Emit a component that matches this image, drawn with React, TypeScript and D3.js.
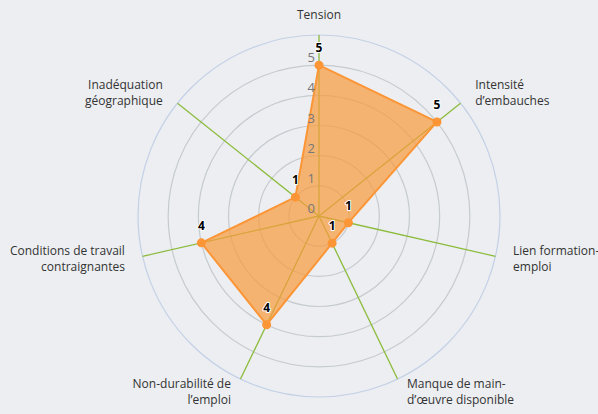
import React from 'react'
import * as d3 from 'd3'

const categories = [
  ['Tension'],
  ['Intensité', 'd’embauches'],
  ['Lien formation-', 'emploi'],
  ['Manque de main-', 'd’œuvre disponible'],
  ['Non-durabilité de', 'l’emploi'],
  ['Conditions de travail', 'contraignantes'],
  ['Inadéquation', 'géographique']
]
const values = [5, 5, 1, 1, 4, 4, 1]
const ticks = [0, 1, 2, 3, 4, 5]
const maxValue = 6

const width = 598
const height = 414
const cx = 319
const cy = 216
const outerR = 181

const App = () => {
  const r = d3.scaleLinear().domain([0, maxValue]).range([0, outerR])
  const angle = d3
    .scaleLinear()
    .domain([0, categories.length])
    .range([0, 2 * Math.PI])

  const pt = (i: number, rad: number) => {
    const a = angle(i)
    return [cx + rad * Math.sin(a), cy - rad * Math.cos(a)]
  }

  const area = d3
    .lineRadial<number>()
    .angle((_, i) => angle(i))
    .radius(d => r(d))
    .curve(d3.curveLinearClosed)

  const font = "'Open Sans', 'DejaVu Sans', sans-serif"

  return (
    <svg
      width={width}
      height={height}
      style={{ position: 'absolute', left: 0, top: 0, background: '#eceef1' }}
    >
      <rect width={width} height={height} fill='#eceef1' />
      {/* grid rings */}
      {ticks.slice(1).map(t => (
        <circle key={t} cx={cx} cy={cy} r={r(t)} fill='none' stroke='#c6cbcf' strokeWidth={1.2} />
      ))}
      <circle cx={cx} cy={cy} r={r(maxValue)} fill='none' stroke='#c3d0e6' strokeWidth={1.2} />
      {/* spokes */}
      {categories.map((_, i) => {
        const [x, y] = pt(i, outerR)
        return <line key={i} x1={cx} y1={cy} x2={x} y2={y} stroke='#8cbb3c' strokeWidth={1.3} />
      })}
      {/* series */}
      <g transform={`translate(${cx},${cy})`}>
        <path d={area(values) || ''} fill='#fa9a3c' fillOpacity={0.7} stroke='#fb9535' strokeWidth={2} strokeLinejoin='round' />
      </g>
      {values.map((v, i) => {
        const [x, y] = pt(i, r(v))
        return <circle key={i} cx={x} cy={y} r={4.5} fill='#fb9535' />
      })}
      {/* tick labels */}
      {ticks.map(t => (
        <text
          key={t}
          x={315}
          y={cy - r(t) - 3}
          textAnchor='end'
          fontSize={13}
          fontFamily={font}
          fill='#777'
        >
          {t}
        </text>
      ))}
      {/* data labels */}
      {values.map((v, i) => {
        const [x, y] = pt(i, r(v))
        return (
          <text
            key={i}
            x={x}
            y={y - 13}
            textAnchor='middle'
            fontSize={12}
            fontWeight='bold'
            fontFamily={font}
            fill='#000'
            stroke='#fff'
            strokeWidth={2}
            strokeLinejoin='round'
            style={{ paintOrder: 'stroke' }}
          >
            {v}
          </text>
        )
      })}
      {/* category labels */}
      {categories.map((lines, i) => {
        const [x, y] = pt(i, outerR + 15)
        const dx = x - cx
        const anchor = Math.abs(dx) < 5 ? 'middle' : dx > 0 ? 'start' : 'end'
        const lh = 16
        const blockCenter = Math.abs(dx) < 5 ? y - 5 : y - 1
        const firstBaseline = blockCenter - ((lines.length - 1) * lh) / 2 + 4
        const tx = x + (anchor === 'start' ? 3 : anchor === 'end' ? -3 : 0)
        return (
          <text
            key={i}
            x={tx}
            y={firstBaseline}
            textAnchor={anchor}
            fontSize={12}
            fontFamily={font}
            fill='#333'
          >
            {lines.map((l, j) => (
              <tspan key={j} x={tx} dy={j === 0 ? 0 : lh}>
                {l}
              </tspan>
            ))}
          </text>
        )
      })}
    </svg>
  )
}

export default App
